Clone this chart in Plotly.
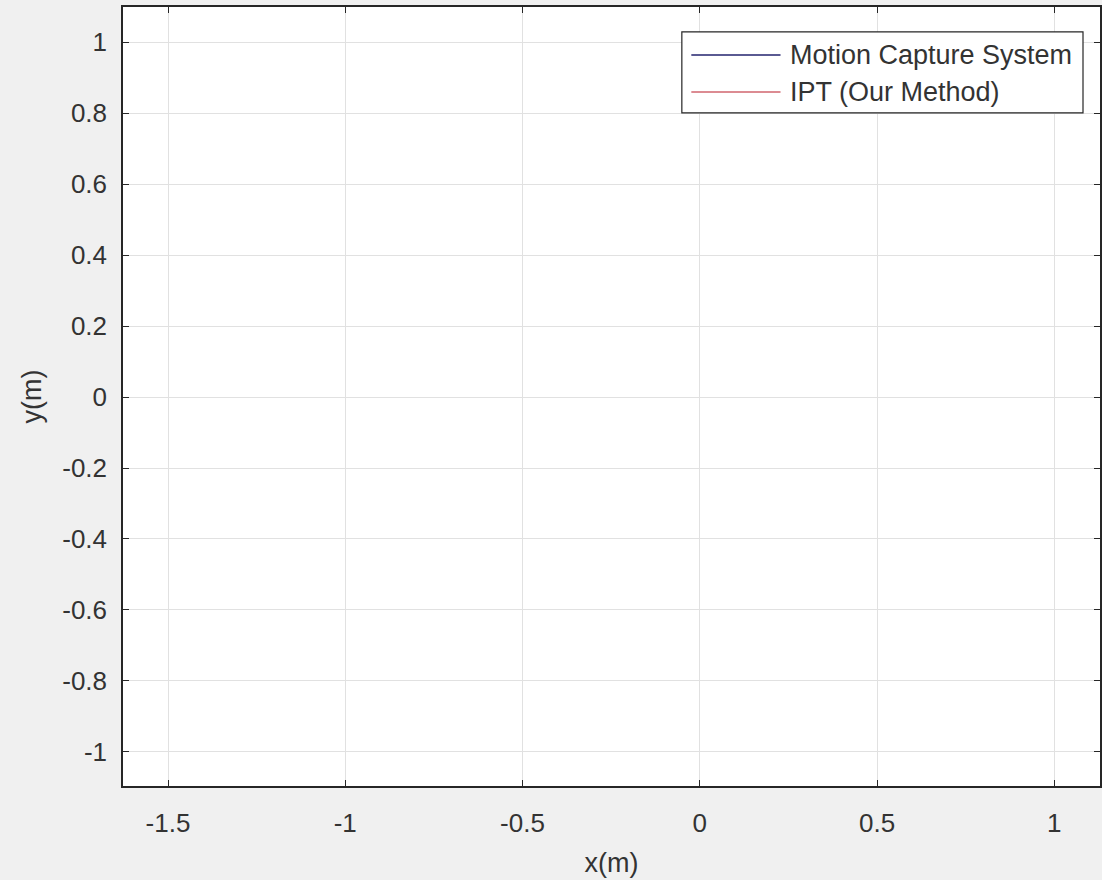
import plotly.graph_objects as go

# Data (the reference shows empty axes; only legend entries are visible)
series_names = ["Motion Capture System", "IPT (Our Method)"]
series_colors = ["#23236e", "#d0646e"]
mocap_x = []
mocap_y = []
ipt_x = []
ipt_y = []

x_ticks = [-1.5, -1, -0.5, 0, 0.5, 1]
x_tick_labels = ["-1.5", "-1", "-0.5", "0", "0.5", "1"]
y_ticks = [1, 0.8, 0.6, 0.4, 0.2, 0, -0.2, -0.4, -0.6, -0.8, -1]
y_tick_labels = ["1", "0.8", "0.6", "0.4", "0.2", "0", "-0.2", "-0.4", "-0.6", "-0.8", "-1"]

x_range = [-1.627, 1.129]
y_range = [-1.096, 1.099]

FONT = "Liberation Sans, Arial, Helvetica, sans-serif"
TXT = "#333333"

fig = go.Figure()
fig.add_trace(go.Scatter(x=mocap_x, y=mocap_y, mode="lines", name=series_names[0],
                         line=dict(color=series_colors[0], width=1.5), showlegend=False))
fig.add_trace(go.Scatter(x=ipt_x, y=ipt_y, mode="lines", name=series_names[1],
                         line=dict(color=series_colors[1], width=1.5), showlegend=False))

axis_common = dict(
    showgrid=True, gridcolor="#e1e1e1", gridwidth=1,
    zeroline=False,
    showline=True, linecolor="#262626", linewidth=1.5, mirror="ticks",
    ticks="inside", ticklen=6, tickcolor="#262626", tickwidth=1.2,
    tickfont=dict(family=FONT, size=26, color=TXT),
)

fig.update_xaxes(range=x_range, tickmode="array", tickvals=x_ticks, ticktext=x_tick_labels,
                 ticklabelstandoff=13,
                 title=dict(text="x(m)", font=dict(family=FONT, size=27, color=TXT), standoff=16),
                 **axis_common)
fig.update_yaxes(range=y_range, tickmode="array", tickvals=y_ticks, ticktext=y_tick_labels,
                 ticklabelstandoff=9,
                 title=dict(text="y(m)", font=dict(family=FONT, size=27, color=TXT), standoff=13),
                 **axis_common)

# Custom MATLAB-style legend
box = dict(x0=0.572, x1=0.9826, y0=0.864, y1=0.968)
fig.add_shape(type="rect", xref="paper", yref="paper", **box,
              line=dict(color="#262626", width=1.2), fillcolor="white", layer="above")
row_y = [0.9384, 0.8909]
for name, color, yy in zip(series_names, series_colors, row_y):
    fig.add_shape(type="line", xref="paper", yref="paper", x0=0.5817, x1=0.673, y0=yy, y1=yy,
                  line=dict(color=color, width=1.5), layer="above")
    fig.add_annotation(xref="paper", yref="paper", x=0.681, y=yy, text=name, showarrow=False,
                       xanchor="left", yanchor="middle",
                       font=dict(family=FONT, size=27, color=TXT))

fig.update_layout(
    width=1102, height=880,
    margin=dict(l=123, r=0, t=7, b=94),
    paper_bgcolor="#f0f0f0", plot_bgcolor="white",
    showlegend=False,
)

fig.write_html("out.html")
